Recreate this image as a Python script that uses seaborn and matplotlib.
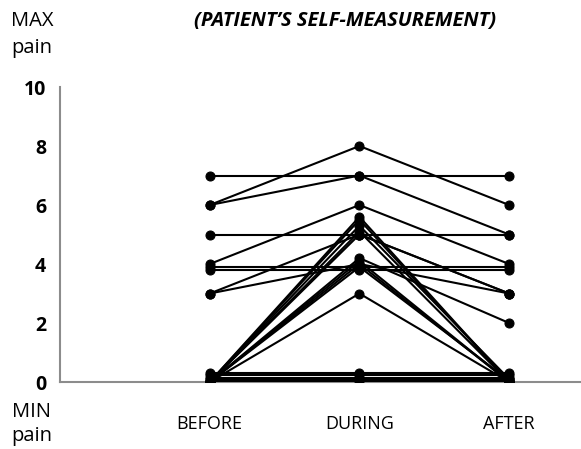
import pandas as pd
import matplotlib
matplotlib.use("Agg")
import matplotlib.pyplot as plt
import seaborn as sns

# pain score per patient: before / during / after
phases = ["BEFORE", "DURING", "AFTER"]
before = [7, 6, 6, 5, 4, 3.9, 3.8, 3, 3, 0.3, 0.25, 0.15, 0.1, 0.05, 0, 0, 0, 0, 0, 0, 0, 0, 0, 0]
during = [7, 8, 7, 5, 6, 3.9, 3.8, 5, 4, 0.3, 0.25, 0.15, 0.1, 0.05, 5.6, 5.5, 5.3, 5.1, 5.0, 4.2, 4.0, 3.9, 3.0, 4.1]
after = [7, 6, 5, 5, 4, 3.9, 3.8, 3, 3, 0.3, 0.25, 0.15, 0.1, 0.05, 0, 0, 0.1, 0, 3, 2, 0, 0.05, 0, 0]

rows = []
for i in range(len(before)):
    for phase, val in zip(phases, [before[i], during[i], after[i]]):
        rows.append({"patient": i, "phase": phase, "pain": val})
df = pd.DataFrame(rows)

sns.set_style("white")
plt.rcParams["font.family"] = ["Open Sans", "DejaVu Sans"]
plt.rcParams["text.color"] = "black"
plt.rcParams["xtick.color"] = "black"
plt.rcParams["ytick.color"] = "black"

fig = plt.figure(figsize=(5.81, 4.49), dpi=100)
ax = fig.add_axes([0.1033, 0.1492, 0.8967, 0.657])

sns.lineplot(data=df, x="phase", y="pain", units="patient", estimator=None,
             color="black", marker="o", markersize=6.5, markeredgecolor="black",
             linewidth=1.5, ax=ax, legend=False)

ax.set_xlim(-1.0, 2.48)
ax.set_ylim(0, 10)
ax.set_yticks([0, 2, 4, 6, 8, 10])
ax.set_yticklabels(["0", "2", "4", "6", "8", "10"], fontsize=14, fontweight="bold")
ax.set_xticks([0, 1, 2])
ax.set_xticklabels(phases, fontsize=13)
ax.tick_params(axis="x", length=0, pad=24, labelcolor="black")
ax.tick_params(axis="y", length=5, width=1.2, color="#888888", direction="out", pad=5,
               labelcolor="black")
ax.set_xlabel("")
ax.set_ylabel("")

for side in ["top", "right"]:
    ax.spines[side].set_visible(False)
for side in ["left", "bottom"]:
    ax.spines[side].set_color("#8c8c8c")
    ax.spines[side].set_linewidth(1.5)
    ax.spines[side].set_zorder(0)

fig.text(0.594, 0.953, "(PATIENT\u2019S SELF-MEASUREMENT)", ha="center", va="center",
         fontsize=14.5, fontweight="bold", fontstyle="italic")
fig.text(0.055, 0.953, "MAX", ha="center", va="center", fontsize=14.5)
fig.text(0.055, 0.893, "pain", ha="center", va="center", fontsize=14.5)
fig.text(0.055, 0.082, "MIN", ha="center", va="center", fontsize=14.5)
fig.text(0.055, 0.028, "pain", ha="center", va="center", fontsize=14.5)

fig.savefig("out.png", dpi=100)
